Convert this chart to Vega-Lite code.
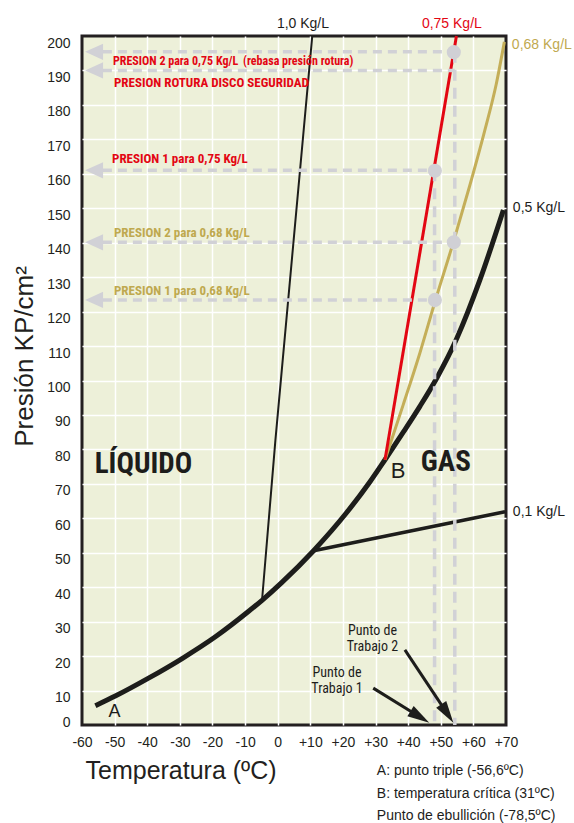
{
  "$schema": "https://vega.github.io/schema/vega-lite/v6.json",
  "width": 424,
  "height": 689,
  "autosize": {"type": "none"},
  "padding": {"left": 82, "top": 36, "right": 68, "bottom": 98},
  "background": "#ffffff",
  "config": {
    "view": {"fill": "#edf0d9", "stroke": "#231f20", "strokeWidth": 3},
    "text": {"font": "Liberation Sans", "color": "#231f20"},
    "axis": {"labelOverlap": false}
  },
  "encoding": {
    "x": {
      "field": "T", "type": "quantitative",
      "scale": {"domain": [-60, 70], "nice": false, "zero": false},
      "axis": {
        "values": [-60, -50, -40, -30, -20, -10, 0, 10, 20, 30, 40, 50, 60, 70],
        "tickCount": 14,
        "labelExpr": "datum.value > 0 ? '+' + datum.value : '' + datum.value",
        "labelOverlap": false, "labelFlush": false, "labelBound": false,
        "labelFont": "Liberation Sans", "labelFontSize": 14, "labelColor": "#231f20",
        "labelPadding": 10, "ticks": false, "domain": false,
        "grid": true, "gridColor": "#ffffff", "gridWidth": 1.5,
        "gridOpacity": {"condition": {"test": "datum.value == -60 || datum.value == 70", "value": 0}, "value": 1},
        "title": "Temperatura (ºC)",
        "titleFont": "Liberation Sans", "titleFontSize": 25, "titleFontWeight": "normal", "titleColor": "#231f20",
        "titleX": 3, "titleY": 53, "titleAlign": "left", "titleBaseline": "alphabetic"
      }
    },
    "y": {
      "field": "P", "type": "quantitative",
      "scale": {"domain": [0, 200], "nice": false, "zero": false},
      "axis": {
        "values": [0, 10, 20, 30, 40, 50, 60, 70, 80, 90, 100, 110, 120, 130, 140, 150, 160, 170, 180, 190, 200],
        "tickCount": 21,
        "labelExpr": "'' + datum.value",
        "labelOverlap": false, "labelFlush": false, "labelBound": false,
        "labelFont": "Liberation Sans", "labelFontSize": 14, "labelColor": "#231f20",
        "labelPadding": 12, "ticks": false, "domain": false,
        "labelOffset": {"condition": {"test": "datum.value == 0", "value": -3}, "value": 7},
        "grid": true, "gridColor": "#ffffff", "gridWidth": 1.5,
        "gridOpacity": {"condition": {"test": "datum.value == 0 || datum.value == 200", "value": 0}, "value": 1},
        "title": "Presión KP/cm²",
        "titleFont": "Liberation Sans", "titleFontSize": 26, "titleFontWeight": "normal", "titleColor": "#231f20",
        "titleX": -50, "titleY": 320, "titleAlign": "center", "titleBaseline": "alphabetic", "titleAngle": -90
      }
    }
  },
  "layer": [
    {
      "data": {"values": [
        {"T": -55.9, "P": 5.6}, {"T": -49.8, "P": 8.4}, {"T": -39.6, "P": 13.6},
        {"T": -29.3, "P": 19.3}, {"T": -19.1, "P": 25.6}, {"T": -8.9, "P": 33.0},
        {"T": -4.8, "P": 36.2}, {"T": 1.3, "P": 41.4}, {"T": 11.0, "P": 50.6},
        {"T": 21.1, "P": 61.6}, {"T": 28.3, "P": 70.6}, {"T": 32.9, "P": 77.0},
        {"T": 38.5, "P": 85.0}, {"T": 43.6, "P": 92.5}, {"T": 48.7, "P": 100.6},
        {"T": 54.9, "P": 112.2}, {"T": 62.0, "P": 129.2}, {"T": 69.2, "P": 149.5}
      ]},
      "mark": {"type": "line", "color": "#1d1d1b", "strokeWidth": 5, "interpolate": "monotone", "strokeCap": "butt"}
    },
    {
      "data": {"values": [{"T": -4.8, "P": 36.2}, {"T": -0.7, "P": 82.7}, {"T": 10.6, "P": 200}]},
      "mark": {"type": "line", "color": "#1d1d1b", "strokeWidth": 2}
    },
    {
      "data": {"values": [{"T": 11.0, "P": 50.6}, {"T": 69.7, "P": 61.9}]},
      "mark": {"type": "line", "color": "#1d1d1b", "strokeWidth": 3.5}
    },
    {
      "data": {"values": [
        {"T": 32.9, "P": 77.0}, {"T": 38.5, "P": 93.0}, {"T": 43.6, "P": 108.0},
        {"T": 48.2, "P": 122.8}, {"T": 54.0, "P": 140.6}, {"T": 58.9, "P": 156.6},
        {"T": 63.5, "P": 172.6}, {"T": 67.0, "P": 186.0}, {"T": 69.5, "P": 198.3}
      ]},
      "mark": {"type": "line", "color": "#c4ae58", "strokeWidth": 3, "interpolate": "monotone"}
    },
    {
      "data": {"values": [{"T": 32.9, "P": 77.0}, {"T": 54.8, "P": 200}]},
      "mark": {"type": "line", "color": "#e30613", "strokeWidth": 3}
    },
    {
      "data": {"values": [
        {"T": -53.6, "T2": 54.2, "P": 195.4},
        {"T": -53.6, "T2": 54.3, "P": 190.0},
        {"T": -53.6, "T2": 48.1, "P": 161.0},
        {"T": -53.6, "T2": 54.0, "P": 140.1},
        {"T": -53.6, "T2": 48.1, "P": 123.4}
      ]},
      "mark": {"type": "rule", "color": "#d1d1d6", "strokeWidth": 3.5, "strokeDash": [9, 6]},
      "encoding": {"x2": {"field": "T2"}}
    },
    {
      "data": {"values": [
        {"T": 54.3, "P": 195.4, "P2": 0},
        {"T": 48.1, "P": 161.0, "P2": 0}
      ]},
      "mark": {"type": "rule", "color": "#d1d1d6", "strokeWidth": 3.5, "strokeDash": [11, 7]},
      "encoding": {"y2": {"field": "P2"}}
    },
    {
      "data": {"values": [
        {"T": -56.3, "P": 195.4}, {"T": -56.3, "P": 190.0}, {"T": -56.3, "P": 161.0},
        {"T": -56.3, "P": 140.1}, {"T": -56.3, "P": 123.4}
      ]},
      "mark": {"type": "point", "shape": "M-1,0L1,-0.9L1,0.9Z", "filled": true, "size": 324, "color": "#d1d1d6", "opacity": 1}
    },
    {
      "data": {"values": [
        {"T": 54.0, "P": 195.3}, {"T": 48.2, "P": 160.9}, {"T": 54.0, "P": 140.1}, {"T": 48.2, "P": 123.4}
      ]},
      "mark": {"type": "circle", "size": 200, "color": "#d0d0d5", "opacity": 1}
    },
    {
      "data": {"values": [
        {"T": -50.5, "P": 192.7, "label": "PRESION 2 para 0,75 Kg/L"}
      ]},
      "mark": {"type": "text", "align": "left", "baseline": "middle", "font": "Roboto Condensed, Liberation Sans", "fontSize": 12, "fontWeight": "bold", "color": "#e30613"},
      "encoding": {"text": {"field": "label"}}
    },
    {
      "data": {"values": [
        {"T": -50.2, "P": 186.4, "label": "PRESION ROTURA DISCO SEGURIDAD"},
        {"T": -50.8, "P": 164.3, "label": "PRESION 1 para 0,75 Kg/L"}
      ]},
      "mark": {"type": "text", "align": "left", "baseline": "middle", "font": "Roboto Condensed, Liberation Sans", "fontSize": 13, "fontWeight": "bold", "color": "#e30613"},
      "encoding": {"text": {"field": "label"}}
    },
    {
      "data": {"values": [
        {"T": -10.6, "P": 192.7, "label": "(rebasa presión rotura)"}
      ]},
      "mark": {"type": "text", "align": "left", "baseline": "middle", "font": "Roboto Condensed, Liberation Sans", "fontSize": 12, "fontWeight": "bold", "color": "#e30613"},
      "encoding": {"text": {"field": "label"}}
    },
    {
      "data": {"values": [
        {"T": -50.2, "P": 142.8, "label": "PRESION 2 para 0,68 Kg/L"},
        {"T": -50.2, "P": 126.0, "label": "PRESION 1 para 0,68 Kg/L"}
      ]},
      "mark": {"type": "text", "align": "left", "baseline": "middle", "font": "Roboto Condensed, Liberation Sans", "fontSize": 13, "fontWeight": "bold", "color": "#bfa94f"},
      "encoding": {"text": {"field": "label"}}
    },
    {
      "data": {"values": [
        {"T": -56.1, "P": 75.8, "label": "LÍQUIDO"},
        {"T": 43.9, "P": 76.2, "label": "GAS"}
      ]},
      "mark": {"type": "text", "align": "left", "baseline": "middle", "font": "Roboto Condensed, Liberation Sans", "fontSize": 29, "fontWeight": "bold", "color": "#1d1d1b"},
      "encoding": {"text": {"field": "label"}}
    },
    {
      "data": {"values": [{"T": -50.0, "P": 3.9, "label": "A"}]},
      "mark": {"type": "text", "align": "center", "baseline": "middle", "fontSize": 18, "color": "#1d1d1b"},
      "encoding": {"text": {"field": "label"}}
    },
    {
      "data": {"values": [{"T": 36.9, "P": 73.7, "label": "B"}]},
      "mark": {"type": "text", "align": "center", "baseline": "middle", "fontSize": 22, "color": "#1d1d1b"},
      "encoding": {"text": {"field": "label"}}
    },
    {
      "data": {"values": [
        {"T": 29.05, "P": 27.3, "label": "Punto de\nTrabajo 2"},
        {"T": 18.2, "P": 15.1, "label": "Punto de\nTrabajo 1"}
      ]},
      "mark": {"type": "text", "align": "center", "baseline": "middle", "lineBreak": "\n", "lineHeight": 16, "font": "Roboto Condensed, Liberation Sans", "fontSize": 14, "color": "#1d1d1b"},
      "encoding": {"text": {"field": "label"}}
    },
    {
      "data": {"values": [
        {"T": 39.0, "P": 21.8, "T2": 52.0, "P2": 3.3},
        {"T": 29.3, "P": 10.7, "T2": 43.6, "P2": 2.35}
      ]},
      "mark": {"type": "rule", "color": "#1d1d1b", "strokeWidth": 3},
      "encoding": {"x2": {"field": "T2"}, "y2": {"field": "P2"}}
    },
    {
      "data": {"values": [{"T": 52.0, "P": 3.3}]},
      "mark": {"type": "point", "shape": "M0,-1L0.55,1L-0.55,1Z", "filled": true, "size": 484, "angle": 146.4, "color": "#1d1d1b", "opacity": 1}
    },
    {
      "data": {"values": [{"T": 43.6, "P": 2.35}]},
      "mark": {"type": "point", "shape": "M0,-1L0.55,1L-0.55,1Z", "filled": true, "size": 484, "angle": 121.6, "color": "#1d1d1b", "opacity": 1}
    },
    {
      "data": {"values": [{"T": 7.75, "P": 203.5, "label": "1,0 Kg/L"}]},
      "mark": {"type": "text", "align": "center", "baseline": "middle", "fontSize": 14, "color": "#1d1d1b"},
      "encoding": {"text": {"field": "label"}}
    },
    {
      "data": {"values": [{"T": 53.4, "P": 203.5, "label": "0,75 Kg/L"}]},
      "mark": {"type": "text", "align": "center", "baseline": "middle", "fontSize": 14, "color": "#e30613"},
      "encoding": {"text": {"field": "label"}}
    },
    {
      "data": {"values": [{"T": 71.8, "P": 197.4, "label": "0,68 Kg/L"}]},
      "mark": {"type": "text", "align": "left", "baseline": "middle", "fontSize": 14, "color": "#bfa94f"},
      "encoding": {"text": {"field": "label"}}
    },
    {
      "data": {"values": [
        {"T": 72.1, "P": 150.1, "label": "0,5 Kg/L"},
        {"T": 72.1, "P": 61.8, "label": "0,1 Kg/L"}
      ]},
      "mark": {"type": "text", "align": "left", "baseline": "middle", "fontSize": 14, "color": "#1d1d1b"},
      "encoding": {"text": {"field": "label"}}
    },
    {
      "data": {"values": [
        {"T": 30.4, "P": -13.35, "label": "A: punto triple (-56,6ºC)"},
        {"T": 30.4, "P": -20.0, "label": "B: temperatura crítica (31ºC)"},
        {"T": 30.4, "P": -26.4, "label": "Punto de ebullición (-78,5ºC)"}
      ]},
      "mark": {"type": "text", "align": "left", "baseline": "middle", "fontSize": 14, "color": "#1d1d1b"},
      "encoding": {"text": {"field": "label"}}
    }
  ]
}
